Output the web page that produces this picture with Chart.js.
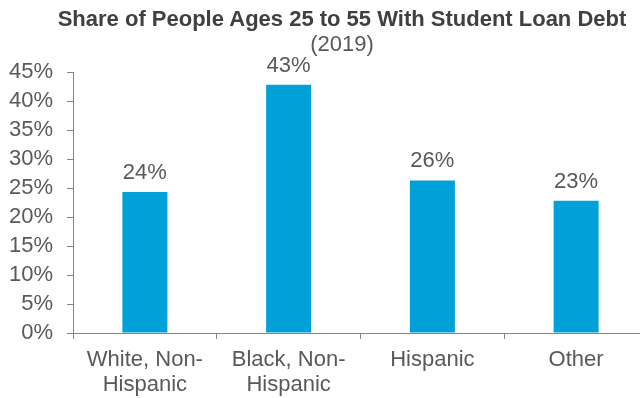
<!DOCTYPE html>
<html>
<head>
<meta charset="utf-8">
<script src="https://cdn.jsdelivr.net/npm/chart.js@4.4.0/dist/chart.umd.min.js"></script>
<style>
  body { margin: 0; width: 640px; height: 398px; overflow: hidden; position: relative; background: #fff; font-family: "Liberation Sans", Arial, sans-serif; }
  #wrap { position: absolute; left: 0; top: 0; width: 648px; height: 398px; }
  .ttl { position: absolute; left: 0; width: 684px; text-align: center; font-size: 22px; line-height: 25px; white-space: nowrap; }
  #title { top: 6px; font-weight: bold; color: #404040; }
  #sub { top: 31px; color: #595959; }
</style>
</head>
<body>
<div id="wrap"><canvas id="chart" width="648" height="398"></canvas></div>
<div class="ttl" id="title">Share of People Ages 25 to 55 With Student Loan Debt</div>
<div class="ttl" id="sub">(2019)</div>
<script>
const categories = [["White, Non-", "Hispanic"], ["Black, Non-", "Hispanic"], "Hispanic", "Other"]
const share = [24.3, 42.8, 26.3, 22.8]
const y_ticks = [0, 5, 10, 15, 20, 25, 30, 35, 40, 45]

const bar_color = "#00a0d8"
const text_color = "#595959"
const axis_color = "#868686"
const font_family = "'Liberation Sans', Arial, sans-serif"

// value labels above the bars
const bar_labels = {
    id: "bar_labels",
    afterDatasetsDraw(chart){
        let ctx = chart.ctx
        let meta = chart.getDatasetMeta(0)
        ctx.save()
        ctx.font = "22px " + font_family
        ctx.fillStyle = text_color
        ctx.textAlign = "center"
        ctx.textBaseline = "alphabetic"
        meta.data.forEach((bar, i) => {
            ctx.fillText(Math.round(share[i]) + "%", bar.x, bar.y - 13)
        })
        ctx.restore()
    }
}

const ctx = document.getElementById("chart").getContext("2d")
const chart = new Chart(ctx, {
    type: "bar",
    data: {
        labels: categories,
        datasets: [
            {
                data: share,
                backgroundColor: bar_color,
                categoryPercentage: 1,
                barPercentage: 0.313
            }
        ]
    },
    options: {
        responsive: false,
        animation: false,
        layout: {
            padding: { top: 72, left: 0, right: 0, bottom: 0 }
        },
        plugins: {
            legend: { display: false },
            tooltip: { enabled: false }
        },
        scales: {
            x: {
                grid: {
                    drawOnChartArea: false,
                    drawTicks: true,
                    tickLength: 6,
                    color: axis_color,
                    offset: true
                },
                border: { color: axis_color, width: 1 },
                ticks: {
                    color: text_color,
                    padding: 8,
                    maxRotation: 0,
                    autoSkip: false,
                    font: { family: font_family, size: 22, lineHeight: 1.14 }
                },
                afterFit(axis){ axis.height = 65 }
            },
            y: {
                min: 0,
                max: 45,
                grid: {
                    drawOnChartArea: false,
                    drawTicks: true,
                    tickLength: 6,
                    color: axis_color
                },
                border: { color: axis_color, width: 1 },
                afterBuildTicks(axis){
                    axis.ticks = y_ticks.map(v => ({ value: v }))
                },
                ticks: {
                    color: text_color,
                    padding: 14,
                    autoSkip: false,
                    font: { family: font_family, size: 22 },
                    callback: v => v + "%"
                },
                afterFit(axis){ axis.width = 73 }
            }
        }
    },
    plugins: [bar_labels]
})
</script>
</body>
</html>
